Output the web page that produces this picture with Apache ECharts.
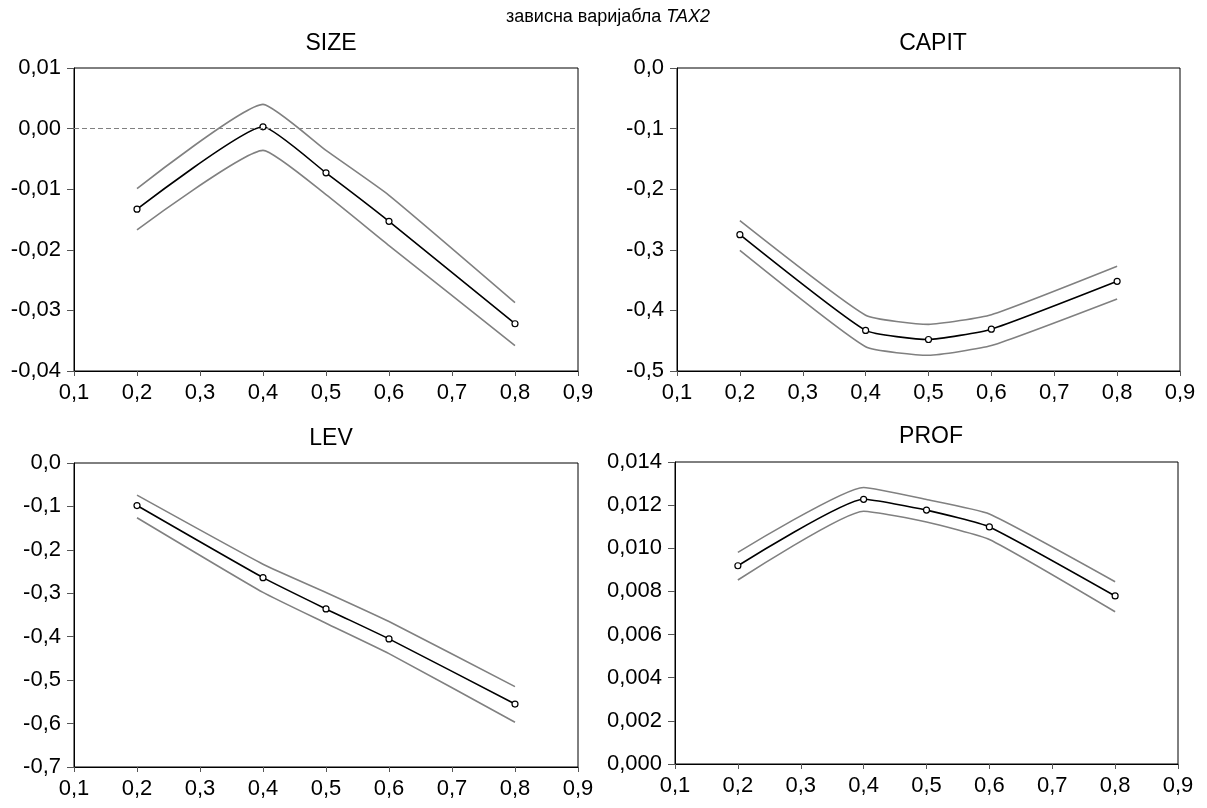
<!DOCTYPE html>
<html>
<head>
<meta charset="utf-8">
<script src="https://cdn.jsdelivr.net/npm/echarts@6/dist/echarts.min.js"></script>
<style>
  html, body { margin: 0; padding: 0; background: #fff; }
  #chart { width: 1207px; height: 808px; }
</style>
</head>
<body>
<div id="chart"></div>
<script>
// Quantile points on the horizontal axis
const quantiles = [0.2, 0.4, 0.5, 0.6, 0.8];

// SIZE: estimate with upper / lower confidence bounds
const sizeMid = [-0.0133, 0.0003, -0.0073, -0.0153, -0.0322];
const sizeUp  = [-0.0099, 0.0040, -0.0036, -0.0110, -0.0287];
const sizeLo  = [-0.0167, -0.0036, -0.0109, -0.0193, -0.0358];

// CAPIT
const capitMid = [-0.275, -0.433, -0.448, -0.431, -0.352];
const capitUp  = [-0.252, -0.408, -0.423, -0.407, -0.327];
const capitLo  = [-0.301, -0.460, -0.474, -0.458, -0.381];

// LEV
const levMid = [-0.098, -0.264, -0.336, -0.405, -0.555];
const levUp  = [-0.074, -0.233, -0.298, -0.365, -0.515];
const levLo  = [-0.126, -0.298, -0.369, -0.439, -0.597];

// PROF
const profMid = [0.00919, 0.01227, 0.01177, 0.01099, 0.00779];
const profUp  = [0.00981, 0.01282, 0.01226, 0.01159, 0.00845];
const profLo  = [0.00853, 0.01172, 0.01122, 0.01041, 0.00706];

const panelNames = ['SIZE', 'CAPIT', 'LEV', 'PROF'];
const mainTitle = 'зависна варијабла ';
const mainTitleItalic = 'TAX2';

// y-axis scales per panel: [min, max, interval, decimals]
const yScales = [
  [-0.04, 0.01, 0.01, 2],
  [-0.5, 0.0, 0.1, 1],
  [-0.7, 0.0, 0.1, 1],
  [0.0, 0.014, 0.002, 3]
];

const panelData = [
  [sizeMid, sizeUp, sizeLo],
  [capitMid, capitUp, capitLo],
  [levMid, levUp, levLo],
  [profMid, profUp, profLo]
];

// plot-area boxes in pixels
const boxes = [
  { left: 74, top: 68, width: 504, height: 303 },
  { left: 677, top: 68, width: 503, height: 303 },
  { left: 74, top: 463, width: 504, height: 304 },
  { left: 675, top: 462, width: 503, height: 302 }
];
const titlePos = [[326, 27], [928, 27], [326, 422], [926, 420]];

const FONT = '"Liberation Sans", Arial, sans-serif';
const comma = (v, d) => v.toFixed(d).replace('.', ',').replace(/^-0(,0+)$/, '0$1');

const pairs = d => quantiles.map((q, i) => [q, d[i]]);

const grids = [], xAxes = [], yAxes = [], series = [], titles = [];

titles.push({
  text: '{n|' + mainTitle + '}{i|' + mainTitleItalic + '}',
  left: 603, top: 3, textAlign: 'center',
  textStyle: {
    rich: {
      n: { fontFamily: FONT, fontSize: 18, fontWeight: 'normal', color: '#000' },
      i: { fontFamily: FONT, fontSize: 18, fontWeight: 'normal', fontStyle: 'italic', color: '#000' }
    }
  }
});

boxes.forEach((b, k) => {
  grids.push({ left: b.left, top: b.top, width: b.width, height: b.height,
    show: true, borderColor: '#000', borderWidth: 1, backgroundColor: '#fff' });
  titles.push({ text: panelNames[k], left: titlePos[k][0], top: titlePos[k][1], textAlign: 'center',
    textStyle: { fontFamily: FONT, fontSize: 23, fontWeight: 'normal', color: '#000' } });
  xAxes.push({
    type: 'value', gridIndex: k, min: 0.1, max: 0.9, interval: 0.1,
    axisLine: { show: true, onZero: false, lineStyle: { color: '#000', width: 1 } },
    axisTick: { show: true, inside: false, length: 5, lineStyle: { color: '#555' } },
    axisLabel: { margin: 11, fontFamily: FONT, fontSize: 22, color: '#000', formatter: v => comma(v, 1) },
    splitLine: { show: false }
  });
  const s = yScales[k];
  yAxes.push({
    type: 'value', gridIndex: k, min: s[0], max: s[1], interval: s[2],
    axisLine: { show: true, onZero: false, lineStyle: { color: '#000', width: 1 } },
    axisTick: { show: true, inside: false, length: 7, lineStyle: { color: '#555' } },
    axisLabel: { margin: 13, fontFamily: FONT, fontSize: 22, color: '#000', formatter: v => comma(v, s[3]) },
    splitLine: { show: false }
  });
  const [mid, up, lo] = panelData[k];
  [up, lo].forEach(band => series.push({
    type: 'line', xAxisIndex: k, yAxisIndex: k, data: pairs(band),
    smooth: 0.15, showSymbol: false, symbol: 'none',
    lineStyle: { color: '#808080', width: 1.6 }, silent: true, z: 2
  }));
  const main = {
    type: 'line', xAxisIndex: k, yAxisIndex: k, data: pairs(mid),
    smooth: 0.15, symbol: 'circle', symbolSize: 6,
    itemStyle: { color: '#fff', borderColor: '#000', borderWidth: 1.2 },
    lineStyle: { color: '#000', width: 1.6 }, silent: true, z: 3
  };
  if (k === 0) {
    main.markLine = {
      silent: true, symbol: 'none', label: { show: false },
      lineStyle: { color: '#808080', type: [5, 3], width: 1 },
      data: [{ yAxis: 0 }]
    };
  }
  series.push(main);
});

const chart = echarts.init(document.getElementById('chart'), null, { renderer: 'canvas' });
chart.setOption({
  animation: false,
  backgroundColor: '#fff',
  title: titles,
  grid: grids,
  xAxis: xAxes,
  yAxis: yAxes,
  series: series
});
</script>
</body>
</html>
